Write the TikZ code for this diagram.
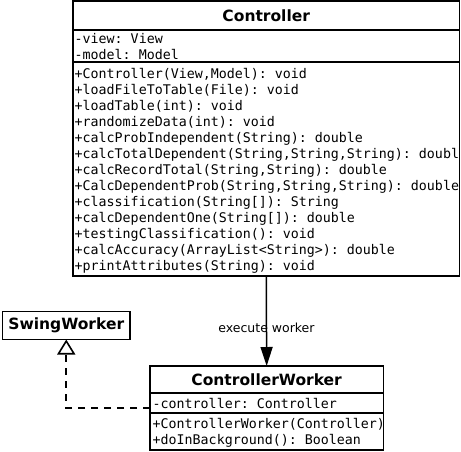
\documentclass[tikz,border=0pt]{standalone}
\usepackage{fontspec}
\setsansfont{DejaVu Sans}
\setmonofont{DejaVu Sans Mono}
\usepackage{xcolor}
\usepackage{tikz}
\usetikzlibrary{positioning,fit,arrows.meta}
\definecolor{bg}{HTML}{FFFFFF}
\definecolor{ink}{HTML}{000000}
\tikzset{
  cls/.style={draw=ink, line width=1.5pt, inner sep=0pt, outer sep=0pt},
  head/.style={text=ink, font=\sffamily\bfseries\fontsize{15.5}{18}\selectfont},
  mem/.style={text=ink, font=\ttfamily\fontsize{13.3}{16}\selectfont, align=left, inner sep=0pt, anchor=base west},
  lab/.style={text=ink, font=\sffamily\fontsize{12.5}{15}\selectfont},
  assoc/.style={draw=ink, line width=1.5pt, -{Triangle[length=19pt,width=12pt]}},
  real/.style={draw=ink, line width=1.6pt, dash pattern=on 7pt off 6pt, -{Triangle[open,length=15pt,width=18pt]}},
}

\begin{document}
\begin{tikzpicture}[x=1pt,y=-1pt]
  \fill[bg] (0,0) rectangle (461,451);
  \useasboundingbox (0,0) rectangle (461,451);

  % Controller class (text nodes sit on the baseline of their last line)
  \node[cls, head, minimum width=386.5pt, minimum height=29pt] (ctrltitle) at (266.25,15.5) {Controller};
  \node[cls, minimum width=386.5pt, minimum height=32pt, below=0pt of ctrltitle] (ctrlattr) {};
  \node[cls, minimum width=386.5pt, minimum height=214pt, below=0pt of ctrlattr] (ctrlops) {};
  \node[mem] (ctrlattrtxt) at (74.5,59) {-view: View\\-model: Model};
  \begin{scope}
    \clip (ctrlops.north west) rectangle (ctrlops.south east);
    \node[mem] (ctrlopstxt) at (74.5,270) {+Controller(View,Model): void\\
      +loadFileToTable(File): void\\
      +loadTable(int): void\\
      +randomizeData(int): void\\
      +calcProbIndependent(String): double\\
      +calcTotalDependent(String,String,String): double\\
      +calcRecordTotal(String,String): double\\
      +CalcDependentProb(String,String,String): double\\
      +classification(String[]): String\\
      +calcDependentOne(String[]): double\\
      +testingClassification(): void\\
      +calcAccuracy(ArrayList<String>): double\\
      +printAttributes(String): void};
  \end{scope}

  % SwingWorker
  \node[cls, head, minimum width=127.5pt, minimum height=28pt] (swing) at (66.25,325.5) {SwingWorker};

  % ControllerWorker class
  \node[cls, head, minimum width=233.3pt, minimum height=27pt] (cwtitle) at (266.65,379.5) {ControllerWorker};
  \node[cls, minimum width=233.3pt, minimum height=20pt, below=0pt of cwtitle] (cwattr) {};
  \node[cls, minimum width=233.3pt, minimum height=37pt, below=0pt of cwattr] (cwops) {};
  \node[fit=(cwtitle)(cwops), inner sep=0pt, outer sep=0pt] (cw) {};
  \node[mem] (cwattrtxt) at (152.5,408) {-controller: Controller};
  \begin{scope}
    \clip (cwops.north west) rectangle (cwops.south east);
    \node[mem] (cwopstxt) at (152.5,444) {+ControllerWorker(Controller)\\+doInBackground(): Boolean};
  \end{scope}

  % connectors
  \draw[assoc] (ctrlops.south) -- node[lab, pos=0.573] (execlab) {execute worker} (cwtitle.north);
  \draw[real] (cw.west) -| (swing.south);
\end{tikzpicture}
\end{document}
